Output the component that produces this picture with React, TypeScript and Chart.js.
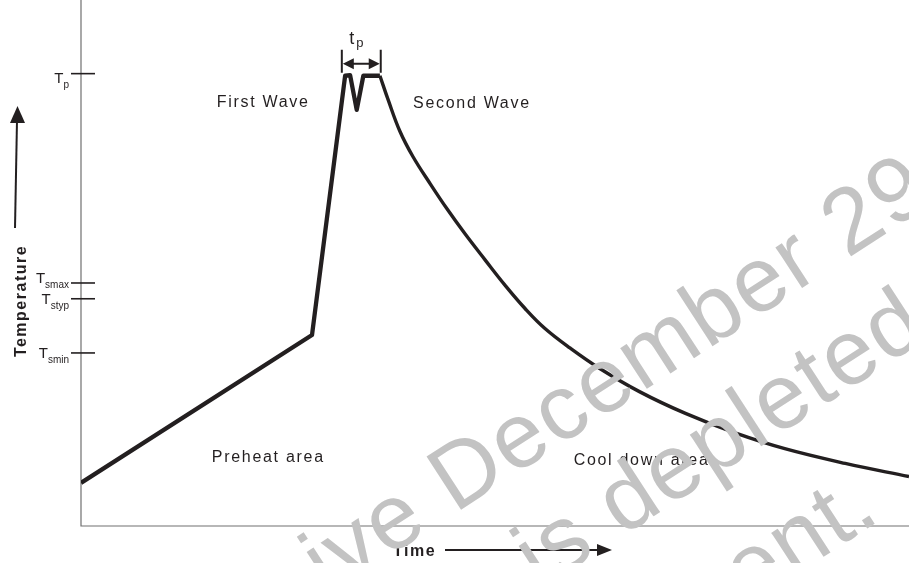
import React, { useEffect, useRef } from "react";
import { Chart, registerables } from "chart.js";

Chart.register(...registerables);

// Profile data (arbitrary time / temperature units)
const preheatTime = [0, 27.9, 31.9, 32.5, 33.3, 34.1, 36.1];
const preheatTemp = [8.2, 36.3, 85.6, 85.7, 79.1, 85.6, 85.6];
const coolTime = [36.1, 37.1, 38.5, 40.1, 42.2, 44.2, 46.4, 48.8, 51.2, 53.6, 56.0, 59.1, 62.7, 67.5, 73.0, 79.0, 85.0, 92.3, 100];
const coolTemp = [85.6, 81.0, 75.1, 70.2, 65.0, 60.3, 55.5, 50.6, 45.8, 41.4, 37.6, 33.8, 29.9, 25.5, 21.4, 17.7, 14.7, 11.9, 9.4];

// Y tick marks
const tickMain = ["T", "T", "T", "T"];
const tickSub = ["p", "smax", "styp", "smin"];
const tickValues = [86, 46.2, 43.2, 32.9];

// tp interval
const tpStart = 31.5;
const tpEnd = 36.2;

// Area annotations (data coords of left / middle)
const areaLabels = ["First Wave", "Second Wave", "Preheat area", "Cool down area"];
const areaTime = [16.4, 40.1, 15.8, 59.5];
const areaTemp = [80.5, 80.4, 13.1, 12.5];

const watermarkLines = ["ive December 29", "is depleted", "ent."];

const FONT = "'Liberation Sans', Arial, Helvetica, sans-serif";

export default function App() {
  const ref = useRef<HTMLCanvasElement | null>(null);

  useEffect(() => {
    document.body.style.margin = "0";
    const canvas = ref.current;
    if (!canvas) return;

    const overlay = {
      id: "overlay",
      beforeDatasetsDraw(chart: any) {
        const { ctx, chartArea } = chart;
        ctx.save();
        ctx.strokeStyle = "#707070";
        ctx.lineWidth = 1.2;
        ctx.beginPath();
        ctx.moveTo(chartArea.left, 0);
        ctx.lineTo(chartArea.left, chartArea.bottom);
        ctx.lineTo(chartArea.right, chartArea.bottom);
        ctx.stroke();
        ctx.restore();
      },
      afterDatasetsDraw(chart: any) {
        const { ctx, chartArea, scales } = chart;
        const xs = scales.x;
        const ys = scales.y;
        const ax = chartArea.left;
        ctx.save();
        ctx.fillStyle = "#231f20";
        ctx.strokeStyle = "#231f20";

        // ticks and labels
        const offs = [4, -5, 0, 0];
        tickValues.forEach((v, i) => {
          const y = ys.getPixelForValue(v);
          ctx.lineWidth = 1.6;
          ctx.beginPath();
          ctx.moveTo(ax - 10, y);
          ctx.lineTo(ax + 14, y);
          ctx.stroke();
          ctx.font = "15px " + FONT;
          const wMain = ctx.measureText(tickMain[i]).width;
          ctx.font = "10px " + FONT;
          const wSub = ctx.measureText(tickSub[i]).width;
          const right = ax - 12;
          const base = y + offs[i] + 5.4;
          ctx.textAlign = "left";
          ctx.textBaseline = "alphabetic";
          ctx.font = "15px " + FONT;
          ctx.fillText(tickMain[i], right - wSub - wMain, base);
          ctx.font = "10px " + FONT;
          ctx.fillText(tickSub[i], right - wSub, base + 4.5);
        });

        // tp marker
        const yTp = ys.getPixelForValue(tickValues[0]);
        const x1 = xs.getPixelForValue(tpStart);
        const x2 = xs.getPixelForValue(tpEnd);
        ctx.lineWidth = 2;
        ctx.beginPath();
        ctx.moveTo(x1, yTp - 24);
        ctx.lineTo(x1, yTp - 1);
        ctx.moveTo(x2, yTp - 24);
        ctx.lineTo(x2, yTp - 1);
        const ya = yTp - 10;
        ctx.moveTo(x1 + 8, ya);
        ctx.lineTo(x2 - 8, ya);
        ctx.stroke();
        ctx.beginPath();
        ctx.moveTo(x1 + 1, ya);
        ctx.lineTo(x1 + 12, ya - 5.5);
        ctx.lineTo(x1 + 12, ya + 5.5);
        ctx.closePath();
        ctx.moveTo(x2 - 1, ya);
        ctx.lineTo(x2 - 12, ya - 5.5);
        ctx.lineTo(x2 - 12, ya + 5.5);
        ctx.closePath();
        ctx.fill();
        ctx.font = "18px " + FONT;
        const tx = (x1 + x2) / 2 - 12;
        ctx.fillText("t", tx, yTp - 30);
        ctx.font = "13px " + FONT;
        ctx.fillText("p", tx + 7, yTp - 27);

        // area labels
        ctx.font = "16px " + FONT;
        (ctx as any).letterSpacing = "1.7px";
        ctx.textBaseline = "middle";
        areaLabels.forEach((t, i) => {
          ctx.fillText(t, xs.getPixelForValue(areaTime[i]), ys.getPixelForValue(areaTemp[i]));
        });

        // axis titles
        ctx.font = "bold 16px " + FONT;
        (ctx as any).letterSpacing = "1.5px";
        ctx.fillText("Time", 393, 552);
        ctx.lineWidth = 2;
        ctx.beginPath();
        ctx.moveTo(445, 550);
        ctx.lineTo(600, 550);
        ctx.stroke();
        ctx.beginPath();
        ctx.moveTo(612, 550);
        ctx.lineTo(597, 544);
        ctx.lineTo(597, 556);
        ctx.closePath();
        ctx.fill();

        ctx.save();
        ctx.translate(22, 301);
        ctx.rotate(-Math.PI / 2);
        ctx.textAlign = "center";
        ctx.fillText("Temperature", 0, 0);
        ctx.restore();
        ctx.beginPath();
        ctx.moveTo(15, 228);
        ctx.lineTo(17, 120);
        ctx.stroke();
        ctx.beginPath();
        ctx.moveTo(17.5, 106);
        ctx.lineTo(10, 123);
        ctx.lineTo(25, 123);
        ctx.closePath();
        ctx.fill();

        // watermark
        ctx.fillStyle = "#c3c3c3";
        ctx.font = "92px " + FONT;
        (ctx as any).letterSpacing = "2px";
        ctx.textBaseline = "alphabetic";
        const ang = (-33 * Math.PI) / 180;
        const starts = [
          [328, 596],
          [540, 590],
          [748, 606],
        ];
        watermarkLines.forEach((t, i) => {
          ctx.save();
          ctx.translate(starts[i][0], starts[i][1]);
          ctx.rotate(ang);
          ctx.textAlign = "left";
          ctx.fillText(t, 0, 0);
          ctx.restore();
        });
        (ctx as any).letterSpacing = "0px";
        ctx.restore();
      },
    };

    const chart = new Chart(canvas, {
      type: "line",
      data: {
        datasets: [
          {
            data: preheatTime.map((x, i) => ({ x, y: preheatTemp[i] })),
            borderColor: "#231f20",
            borderWidth: 4.3,
            pointRadius: 0,
            tension: 0,
            borderJoinStyle: "round",
            borderCapStyle: "butt",
          },
          {
            data: coolTime.map((x, i) => ({ x, y: coolTemp[i] })),
            borderColor: "#231f20",
            borderWidth: 3.4,
            pointRadius: 0,
            tension: 0.4,
            borderJoinStyle: "round",
          },
        ],
      },
      options: {
        animation: false,
        responsive: false,
        maintainAspectRatio: false,
        devicePixelRatio: 1,
        layout: { padding: { left: 81, right: 0, top: 0, bottom: 37 } },
        plugins: { legend: { display: false }, tooltip: { enabled: false } },
        scales: {
          x: { type: "linear", min: 0, max: 100, display: false },
          y: { type: "linear", min: 0, max: 100, display: false },
        },
      },
      plugins: [overlay],
    } as any);

    return () => chart.destroy();
  }, []);

  return (
    <div style={{ width: 909, height: 563, background: "#fff" }}>
      <canvas ref={ref} width={909} height={563} />
    </div>
  );
}
